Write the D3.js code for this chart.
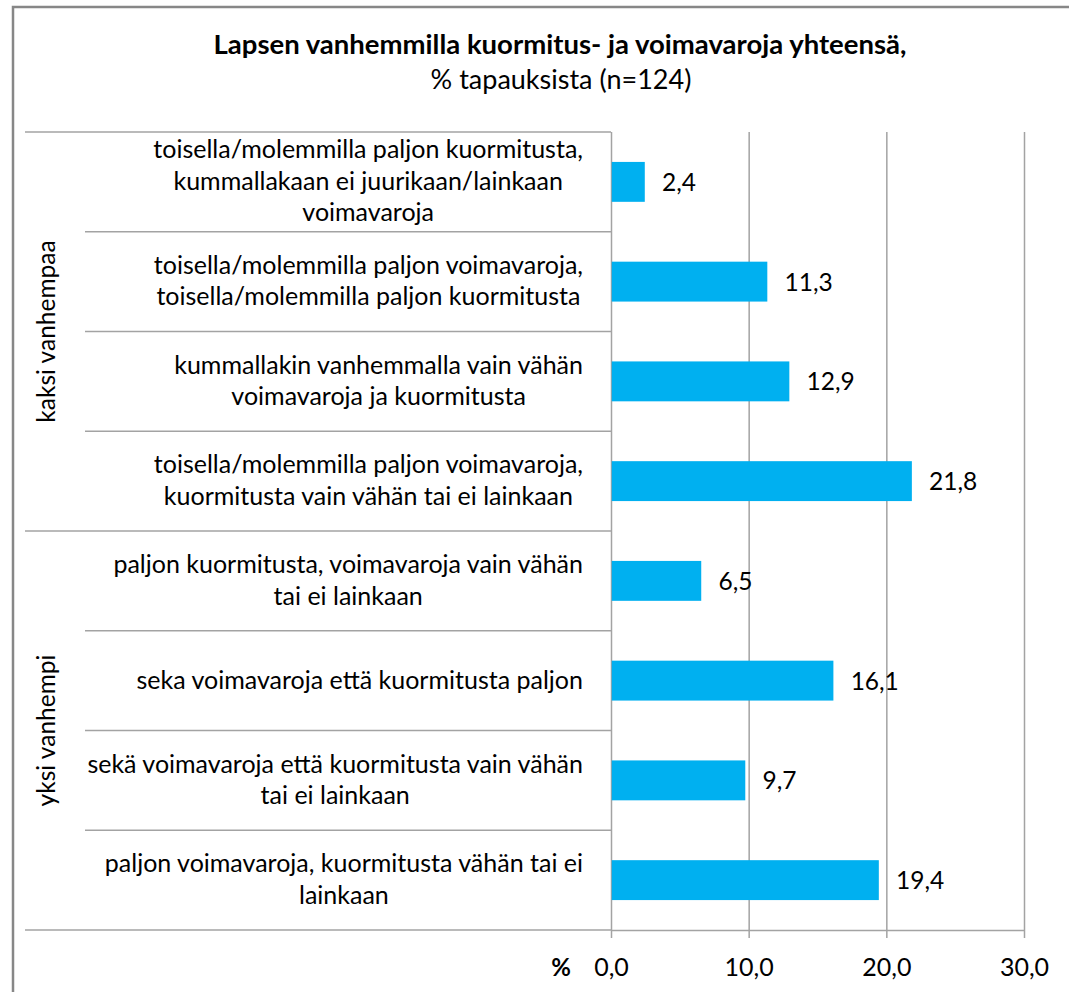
<!DOCTYPE html>
<html>
<head>
<meta charset="utf-8">
<script src="https://cdn.jsdelivr.net/npm/d3@7/dist/d3.min.js"></script>
<style>
  html, body { margin: 0; padding: 0; background: #ffffff; }
  svg { display: block; }
  text { font-family: Lato, "Open Sans", sans-serif; fill: #000; }
</style>
</head>
<body>
<svg id="chart" width="1069" height="992"></svg>
<script>
// ---- data ----
const titleLine1 = "Lapsen vanhemmilla kuormitus- ja voimavaroja yhteensä,";
const titleLine2 = "% tapauksista (n=124)";
const groups = ["kaksi vanhempaa", "yksi vanhempi"];
const categories = [
  "toisella/molemmilla paljon kuormitusta,\nkummallakaan ei juurikaan/lainkaan\nvoimavaroja",
  "toisella/molemmilla paljon voimavaroja,\ntoisella/molemmilla paljon kuormitusta",
  "kummallakin vanhemmalla vain vähän\nvoimavaroja ja kuormitusta",
  "toisella/molemmilla paljon voimavaroja,\nkuormitusta vain vähän tai ei lainkaan",
  "paljon kuormitusta, voimavaroja vain vähän\ntai ei lainkaan",
  "seka voimavaroja että kuormitusta paljon",
  "sekä voimavaroja että kuormitusta vain vähän\ntai ei lainkaan",
  "paljon voimavaroja, kuormitusta vähän tai ei\nlainkaan"
];
const categoryGroup = [0, 0, 0, 0, 1, 1, 1, 1];
const values = [2.4, 11.3, 12.9, 21.8, 6.5, 16.1, 9.7, 19.4];
const tickValues = [0, 10, 20, 30];
const axisUnit = "%";

// ---- layout ----
const svg = d3.select("#chart");
const yTop = 132, yBottom = 930;
const x0 = 611, x1 = 1024;
const gridColor = "#a3a3a3";
const fmt = v => d3.format(".1f")(v).replace(".", ",");

const x = d3.scaleLinear().domain([0, 30]).range([x0, x1]);
const y = d3.scaleBand().domain(categories).range([yTop, yBottom])
  .paddingInner(0.6).paddingOuter(0.3);
const step = y.step();
const bandTop = c => y(c) - y.paddingOuter() * step; // full row start

// outer frame
svg.append("rect").attr("x", 13).attr("y", 7).attr("width", 1200).attr("height", 1200)
  .attr("fill", "none").attr("stroke", "#878787").attr("stroke-width", 2.5);

// titles
svg.append("text").attr("x", 560).attr("y", 54).attr("text-anchor", "middle")
  .style("font-weight", "bold").style("font-size", "27.5px").text(titleLine1);
svg.append("text").attr("x", 561).attr("y", 89).attr("text-anchor", "middle")
  .style("font-size", "27px").text(titleLine2);

// gridlines (value axis)
svg.append("g").attr("transform", `translate(0,${yTop})`)
  .call(d3.axisBottom(x).tickValues(tickValues).tickSize(yBottom - yTop + 8).tickFormat(""))
  .call(g => g.select(".domain").remove())
  .call(g => g.selectAll("line").attr("stroke", gridColor).attr("stroke-width", 1.5));

// bottom axis
const ax = svg.append("g").attr("transform", `translate(0,${yBottom})`)
  .call(d3.axisBottom(x).tickValues(tickValues).tickSize(0).tickPadding(0).tickFormat(fmt));
ax.select(".domain").attr("stroke", gridColor).attr("stroke-width", 1.5);
ax.selectAll("text").attr("y", 46).attr("dy", null).attr("fill", "#000")
  .style("font-size", "25px").style("font-family", "Lato, 'Open Sans', sans-serif");
svg.append("text").attr("x", 561).attr("y", yBottom + 46).attr("text-anchor", "middle")
  .style("font-weight", "bold").style("font-size", "24px").text(axisUnit);

// category axis lines
svg.append("line").attr("x1", 25).attr("x2", x0).attr("y1", yBottom).attr("y2", yBottom)
  .attr("stroke", gridColor).attr("stroke-width", 1.5);
categories.forEach((c, i) => {
  const yy = bandTop(c);
  const isGroupStart = i === 0 || categoryGroup[i] !== categoryGroup[i - 1];
  svg.append("line").attr("x1", isGroupStart ? 25 : 85).attr("x2", x0)
    .attr("y1", yy).attr("y2", yy).attr("stroke", gridColor).attr("stroke-width", 1.5);
});

// group labels
groups.forEach((gName, gi) => {
  const members = categories.filter((c, i) => categoryGroup[i] === gi);
  const gTop = bandTop(members[0]);
  const gBot = bandTop(members[members.length - 1]) + step;
  const cy = (gTop + gBot) / 2;
  svg.append("text").attr("transform", `translate(55,${cy}) rotate(-90)`)
    .attr("text-anchor", "middle").style("font-size", "24.5px").text(gName);
});

// category labels (block right aligned, lines centered)
const lineH = 31.5;
const labelRight = 583;
categories.forEach(c => {
  const lines = c.split("\n");
  const t = svg.append("text").attr("text-anchor", "middle").style("font-size", "25px");
  const cy = y(c) + y.bandwidth() / 2;
  lines.forEach((ln, k) => {
    t.append("tspan").attr("y", cy + (k - (lines.length - 1) / 2) * lineH + 8).text(ln);
  });
  let maxW = 0;
  t.selectAll("tspan").each(function() { maxW = Math.max(maxW, this.getComputedTextLength()); });
  t.selectAll("tspan").attr("x", labelRight - maxW / 2);
});

// bars
svg.append("g").selectAll("rect").data(categories).join("rect")
  .attr("x", x(0) + 0.75)
  .attr("y", c => y(c))
  .attr("width", (c, i) => x(values[i]) - x(0))
  .attr("height", y.bandwidth())
  .attr("fill", "#00B0F0");

// value labels
svg.append("g").selectAll("text").data(categories).join("text")
  .attr("x", (c, i) => x(values[i]) + 18)
  .attr("y", c => y(c) + y.bandwidth() / 2 + 9)
  .style("font-size", "24.5px")
  .text((c, i) => fmt(values[i]));
</script>
</body>
</html>
